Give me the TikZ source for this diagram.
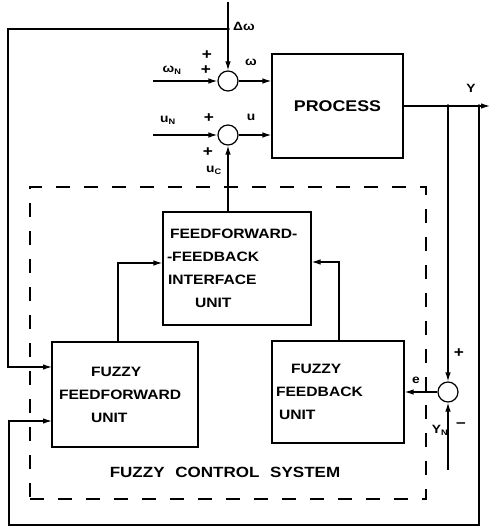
\documentclass[tikz,border=0pt]{standalone}
\usepackage{fontspec}
\setmainfont[FakeStretch=1.15]{Liberation Sans}
\usetikzlibrary{arrows.meta}
\tikzset{
  wire/.style={line width=1.2pt},
  arr/.style={wire,-{Latex[length=9pt,width=5.5pt]}},
  blk/.style={draw,line width=1.2pt,inner sep=0pt,font=\bfseries\fontsize{13.6}{23}\selectfont},
  sumj/.style={draw,circle,line width=1.2pt,minimum size=20pt,inner sep=0pt},
  lbl/.style={inner sep=0pt,font=\bfseries\fontsize{12}{13}\selectfont},
  pm/.style={inner sep=0pt,font=\bfseries\fontsize{15}{15}\selectfont},
  fcsbox/.style={draw,line width=1.2pt,dash pattern=on 14pt off 14pt,inner sep=0pt},
  dot/.style={fill}
}
\begin{document}
\begin{tikzpicture}[x=1pt,y=-1pt]
\useasboundingbox (0,0) rectangle (491,529);

% dashed system border
\node[fcsbox,minimum width=396pt,minimum height=312pt] (fcs) at (228,343) {};
\node[inner sep=0pt,font=\bfseries\fontsize{14.8}{16}\selectfont] (fcslbl) at (225,472) {FUZZY\hspace{6pt} CONTROL\hspace{6pt} SYSTEM};

% blocks
\node[blk,minimum width=131pt,minimum height=104pt,font=\bfseries\fontsize{15.5}{18}\selectfont] (proc) at (337.5,106) {PROCESS};
\node[blk,minimum height=113pt,text width=140pt,inner xsep=4pt,align=left] (iface) at (237,268.5)
  {\hspace*{3pt}FEEDFORWARD-\\-FEEDBACK\\\hspace*{1pt}INTERFACE\\\hspace*{28pt}UNIT};
\node[blk,minimum height=105pt,text width=132pt,inner xsep=7pt,align=left] (ff) at (125,394.5)
  {\hspace*{32pt}FUZZY\\FEEDFORWARD\\\hspace*{32pt}UNIT};
\node[blk,minimum height=102pt,text width=124pt,inner xsep=4pt,align=left] (fb) at (338,392)
  {\hspace*{15pt}FUZZY\\FEEDBACK\\\hspace*{3pt}UNIT};

% summing junctions
\node[sumj] (s1) at (228,81) {};
\node[sumj] (s2) at (228,135) {};
\node[sumj] (s3) at (448,392) {};

% coordinates
\coordinate (top) at (228,2);
\coordinate (j1) at (228,29);
\coordinate (c1) at (8,29);
\coordinate (ffa) at (52,367);
\coordinate (ffb) at (52,421);
\coordinate (ws1) at (153,81);
\coordinate (ws2) at (153,135);
\coordinate (out) at (490,106);
\coordinate (j2) at (448,106);
\coordinate (j3) at (479,106);
\coordinate (br) at (479,525);
\coordinate (bl) at (9,525);
\coordinate (yn) at (448,470);
\coordinate (ffup) at (118,263);
\coordinate (fbup) at (339,262);

% connectors
\draw[arr] (top) -- (s1);
\draw[arr] (j1) -- (c1) |- (ffa);
\draw[arr] (ws1) -- (s1);
\draw[arr] (ws2) -- (s2);
\draw[arr] (s1) -- (s1 -| proc.west);
\draw[arr] (s2) -- (s2 -| proc.west);
\draw[arr] (iface.north -| s2) -- (s2);
\draw[arr] (ff.north -| ffup) |- (iface.west |- ffup);
\draw[arr] (fb.north -| fbup) |- (iface.east |- fbup);
\draw[arr] (proc.east |- out) -- (out);
\draw[arr] (j2) -- (s3);
\draw[arr] (yn) -- (s3);
\draw[arr] (s3) -- (s3 -| fb.east);
\draw[arr] (j3) -- (br) -- (bl) |- (ffb);

\fill[dot] (j1) circle (1.8pt);
\fill[dot] (j2) circle (1.8pt);
\fill[dot] (j3) circle (1.8pt);

% labels
\node[lbl] (ldw) at (244,26) {Δω};
\node[pm] (p1) at (207,55) {+};
\node[pm] (p2) at (206,70) {+};
\node[lbl] (lwn) at (172,70) {ω\textsubscript{N}};
\node[lbl] (lw) at (251,62) {ω};
\node[lbl] (lun) at (168,120) {u\textsubscript{N}};
\node[pm] (p3) at (209,118) {+};
\node[lbl] (lu) at (251,117) {u};
\node[pm] (p4) at (208,152) {+};
\node[lbl] (luc) at (214,170) {u\textsubscript{C}};
\node[lbl] (ly) at (471,88) {Y};
\node[pm] (p5) at (459,353) {+};
\node[lbl] (le) at (416,380) {e};
\node[pm] (m1) at (461,425) {\textendash};
\node[lbl] (lyn) at (440,430) {Y\textsubscript{N}};
\end{tikzpicture}
\end{document}
